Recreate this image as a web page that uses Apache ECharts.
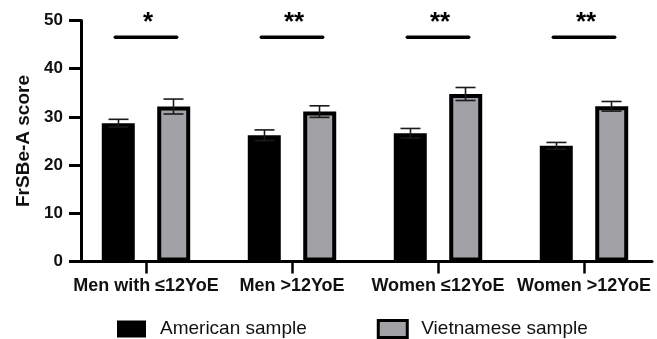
<!DOCTYPE html>
<html>
<head>
<meta charset="utf-8">
<script src="https://cdn.jsdelivr.net/npm/echarts@6/dist/echarts.min.js"></script>
<style>
  html, body { margin: 0; padding: 0; background: #fff; }
  #chart { width: 657px; height: 339px; }
</style>
</head>
<body>
<div id="chart"></div>
<script>
const categories = ['Men with ≤12YoE', 'Men >12YoE', 'Women ≤12YoE', 'Women >12YoE'];
const seriesNames = ['American sample', 'Vietnamese sample'];
const americanMean = [28.7, 26.2, 26.6, 24.0];
const americanErr = [0.8, 1.1, 1.0, 0.7];
const vietnameseMean = [32.15, 31.1, 34.75, 32.2];
const vietnameseErr = [1.55, 1.2, 1.35, 1.0];
const sigLabels = ['*', '**', '**', '**'];
const sigLevel = [46.5, 46.5, 46.5, 46.5];
const yMin = 0, yMax = 50, yStep = 10;
const yTitle = 'FrSBe-A score';

const FONT = 'Liberation Sans, Arial, sans-serif';
const chart = echarts.init(document.getElementById('chart'), null, { renderer: 'canvas' });

function errorBarSeries(means, errs, side) {
  return {
    type: 'custom',
    xAxisIndex: 0, yAxisIndex: 0,
    z: 5,
    silent: true,
    data: means.map((m, i) => [i, m, errs[i]]),
    renderItem: function (params, api) {
      const cat = api.value(0), mean = api.value(1), err = api.value(2);
      const bw = api.size([1, 0])[0];
      const x = api.coord([cat, mean])[0] + side * bw * 0.1884;
      const top = api.coord([cat, mean + err])[1];
      const bot = api.coord([cat, mean - err])[1];
      const half = 10;
      const st = { stroke: '#1a1a1a', lineWidth: 1.6 };
      return {
        type: 'group',
        children: [
          { type: 'line', shape: { x1: x, y1: top, x2: x, y2: bot }, style: st },
          { type: 'line', shape: { x1: x - half, y1: top, x2: x + half, y2: top }, style: st },
          { type: 'line', shape: { x1: x - half, y1: bot, x2: x + half, y2: bot }, style: st }
        ]
      };
    }
  };
}

const option = {
  backgroundColor: '#fff',
  animation: false,
  textStyle: { fontFamily: FONT },
  grid: [
    { left: 73, top: 20.5, width: 588, height: 241 },
    { left: 81, top: 20.5, width: 571, height: 241 }
  ],
  xAxis: [
    {
      type: 'category', gridIndex: 0, data: categories,
      axisLine: { show: false },
      axisTick: { show: true, alignWithLabel: true, length: 12, lineStyle: { color: '#000', width: 2.5 } },
      axisLabel: { interval: 0, fontSize: 18, fontWeight: 'bold', color: '#111', margin: 16, fontFamily: FONT },
      splitLine: { show: false }
    },
    {
      type: 'value', gridIndex: 1, min: 0, max: 1,
      axisLine: { show: true, lineStyle: { color: '#000', width: 3 } },
      axisTick: { show: false }, axisLabel: { show: false }, splitLine: { show: false }
    }
  ],
  yAxis: [
    { type: 'value', gridIndex: 0, min: yMin, max: yMax, interval: yStep, show: false },
    {
      type: 'value', gridIndex: 1, min: yMin, max: yMax, interval: yStep,
      axisLine: { show: true, lineStyle: { color: '#000', width: 3 } },
      axisTick: { show: true, length: 12, lineStyle: { color: '#000', width: 3 } },
      axisLabel: { fontSize: 17, fontWeight: 'bold', color: '#111', margin: 18, fontFamily: FONT },
      splitLine: { show: false },
      name: yTitle, nameLocation: 'middle', nameGap: 47, nameRotate: 90,
      nameTextStyle: { fontSize: 19, fontWeight: 'bold', color: '#111', fontFamily: FONT }
    }
  ],
  legend: {
    left: 112, top: 314,
    itemWidth: 29, itemHeight: 17, itemGap: 70,
    icon: 'rect',
    textStyle: { fontSize: 19, color: '#111', fontFamily: FONT, padding: [0, 0, 0, 9] },
    data: [
      { name: seriesNames[0], itemStyle: { color: '#000', borderColor: '#000', borderWidth: 0 } },
      { name: seriesNames[1], itemStyle: { color: '#a2a1a6', borderColor: '#000', borderWidth: 3 } }
    ]
  },
  series: [
    {
      name: seriesNames[0], type: 'bar', xAxisIndex: 0, yAxisIndex: 0,
      data: americanMean, barWidth: 33, barGap: '68%',
      itemStyle: { color: '#000', borderColor: '#000', borderWidth: 4 }
    },
    {
      name: seriesNames[1], type: 'bar', xAxisIndex: 0, yAxisIndex: 0,
      data: vietnameseMean, barWidth: 33, barGap: '68%',
      itemStyle: { color: '#a2a1a6', borderColor: '#000', borderWidth: 4 }
    },
    errorBarSeries(americanMean, americanErr, -1),
    errorBarSeries(vietnameseMean, vietnameseErr, 1),
    {
      type: 'custom', xAxisIndex: 0, yAxisIndex: 0, z: 6, silent: true,
      data: sigLevel.map((v, i) => [i, v]),
      renderItem: function (params, api) {
        const cat = api.value(0), lvl = api.value(1);
        const p = api.coord([cat, lvl]);
        const bw = api.size([1, 0])[0];
        const half = bw * 0.21;
        return {
          type: 'group',
          children: [
            { type: 'line', shape: { x1: p[0] - half, y1: p[1], x2: p[0] + half, y2: p[1] },
              style: { stroke: '#000', lineWidth: 3.5, lineCap: 'round' } },
            { type: 'text', x: p[0] + 2, y: p[1] - 15,
              style: { text: sigLabels[params.dataIndex], fontSize: 26, fontWeight: 'bold', fill: '#000',
                       fontFamily: FONT, align: 'center', verticalAlign: 'middle' } }
          ]
        };
      }
    }
  ]
};
chart.setOption(option);
</script>
</body>
</html>
